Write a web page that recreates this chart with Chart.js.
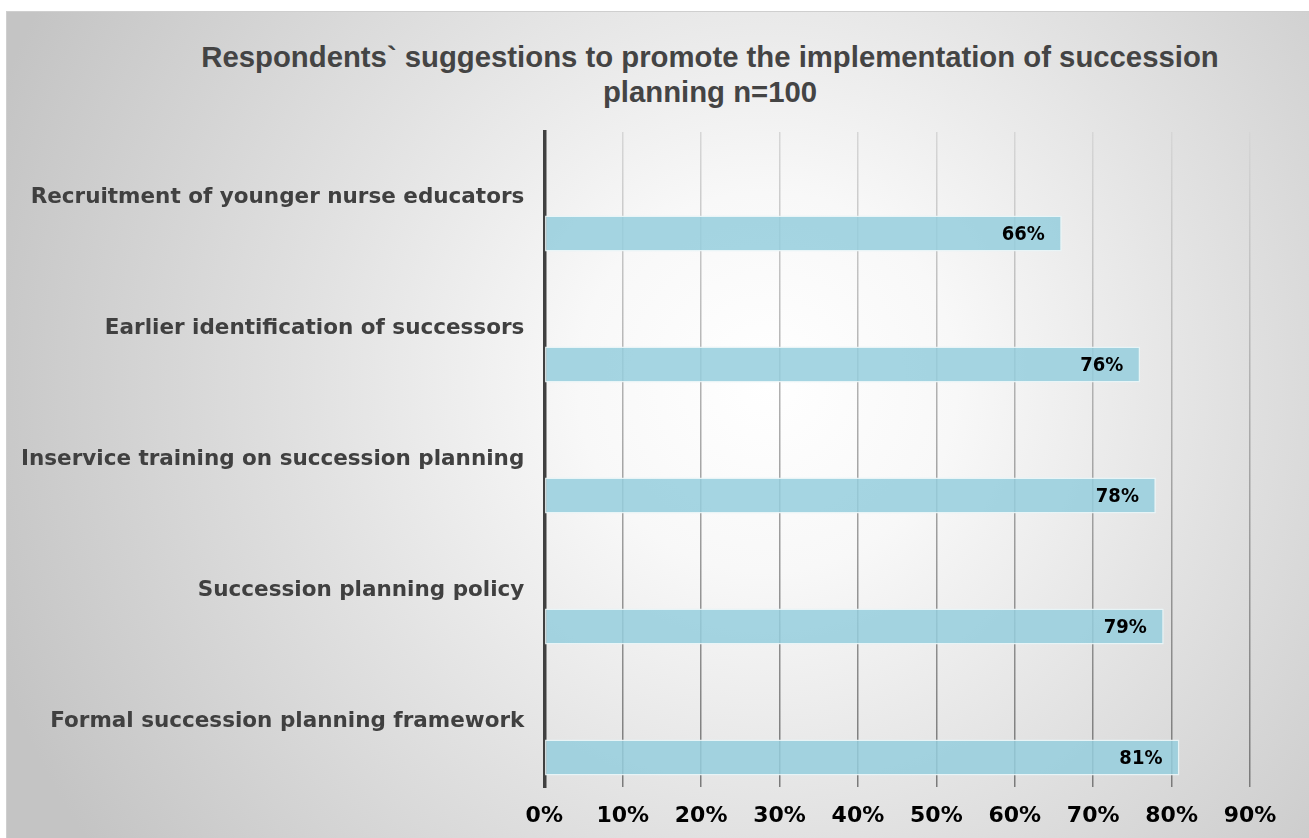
<!DOCTYPE html>
<html>
<head>
<meta charset="utf-8">
<script src="https://cdn.jsdelivr.net/npm/chart.js@4"></script>
<style>
  html, body { margin: 0; padding: 0; background: #ffffff; overflow: hidden; }
  #frame {
    position: absolute; left: 6px; top: 11px; width: 1310px; height: 830px;
    border-left: 1px solid #cfcfcf; border-top: 1px solid #cfcfcf;
    background: radial-gradient(circle at 760px 370px, #ffffff 0px, #f8f8f8 190px, #e2e2e2 450px, #c4c4c4 820px);
  }
  #title {
    position: absolute; left: 0; top: 27px; width: 1406px; text-align: center;
    font-family: "Liberation Sans", Arial, sans-serif; font-weight: bold; font-size: 29.3px;
    line-height: 35px; color: #444444;
  }
  canvas { position: absolute; left: 0; top: 0; }
</style>
</head>
<body>
<div id="frame">
  <div id="title">Respondents` suggestions to promote the implementation of succession<br>planning n=100</div>
  <canvas id="chart" width="1302" height="826"></canvas>
</div>
<script>
// Suggestions listed top to bottom, share of respondents (%)
const categories = [
  'Recruitment of younger nurse educators',
  'Earlier identification of successors',
  'Inservice training on succession planning',
  'Succession planning policy',
  'Formal succession planning framework'
];
const percentages = [66, 76, 78, 79, 81];
// empty slot that pushes each bar below its category label
const spacer = [null, null, null, null, null];
const xTicks = [0, 10, 20, 30, 40, 50, 60, 70, 80, 90];

// value labels inside the end of each bar
const barValueLabels = {
  id: 'barValueLabels',
  afterDatasetsDraw(chart) {
    const ctx = chart.ctx;
    const meta = chart.getDatasetMeta(1);
    ctx.save();
    ctx.font = 'bold 20px "DejaVu Sans Condensed", "DejaVu Sans", Verdana, sans-serif';
    ctx.fillStyle = '#000000';
    ctx.textAlign = 'right';
    ctx.textBaseline = 'middle';
    meta.data.forEach((bar, i) => {
      ctx.fillText(percentages[i] + '%', bar.x - 17, bar.y + 1);
    });
    ctx.restore();
  }
};

function gridGradient(context) {
  const chart = context.chart;
  const area = chart.chartArea;
  if (!area) return '#a0a0a0';
  const g = chart.ctx.createLinearGradient(0, area.top, 0, area.bottom);
  g.addColorStop(0, '#d6d6d6');
  g.addColorStop(0.45, '#ababab');
  g.addColorStop(1, '#7a7a7a');
  return g;
}

new Chart(document.getElementById('chart'), {
  type: 'bar',
  data: {
    labels: categories,
    datasets: [
      { data: spacer, backgroundColor: 'rgba(0,0,0,0)' },
      {
        data: percentages,
        backgroundColor: 'rgba(149,206,221,0.85)',
        borderColor: 'rgba(232,244,247,0.95)',
        borderWidth: 1.5,
        borderSkipped: false
      }
    ]
  },
  options: {
    indexAxis: 'y',
    responsive: false,
    animation: false,
    devicePixelRatio: 1,
    categoryPercentage: 1.1,
    barPercentage: 0.5,
    layout: { padding: { left: 0, right: 59, top: 120, bottom: 0 } },
    plugins: { legend: { display: false }, tooltip: { enabled: false }, title: { display: false } },
    scales: {
      x: {
        min: 0, max: 90,
        afterBuildTicks(scale) { scale.ticks = xTicks.map(v => ({ value: v })); },
        afterFit(scale) { scale.height = 51; },
        grid: { color: gridGradient, lineWidth: 1.5, drawTicks: false },
        border: { display: false },
        ticks: {
          padding: 16,
          color: '#000000',
          font: { family: '"DejaVu Sans", Verdana, sans-serif', weight: 'bold', size: 22 },
          callback: v => v + '%'
        }
      },
      y: {
        afterFit(scale) { scale.width = 537.3; },
        grid: { display: false, drawTicks: false },
        border: { display: true, color: '#404040', width: 3.5 },
        ticks: {
          padding: 20,
          color: '#404040',
          font: { family: '"DejaVu Sans", Verdana, sans-serif', weight: 'bold', size: 21.5 }
        }
      }
    }
  },
  plugins: [barValueLabels]
});
</script>
</body>
</html>
